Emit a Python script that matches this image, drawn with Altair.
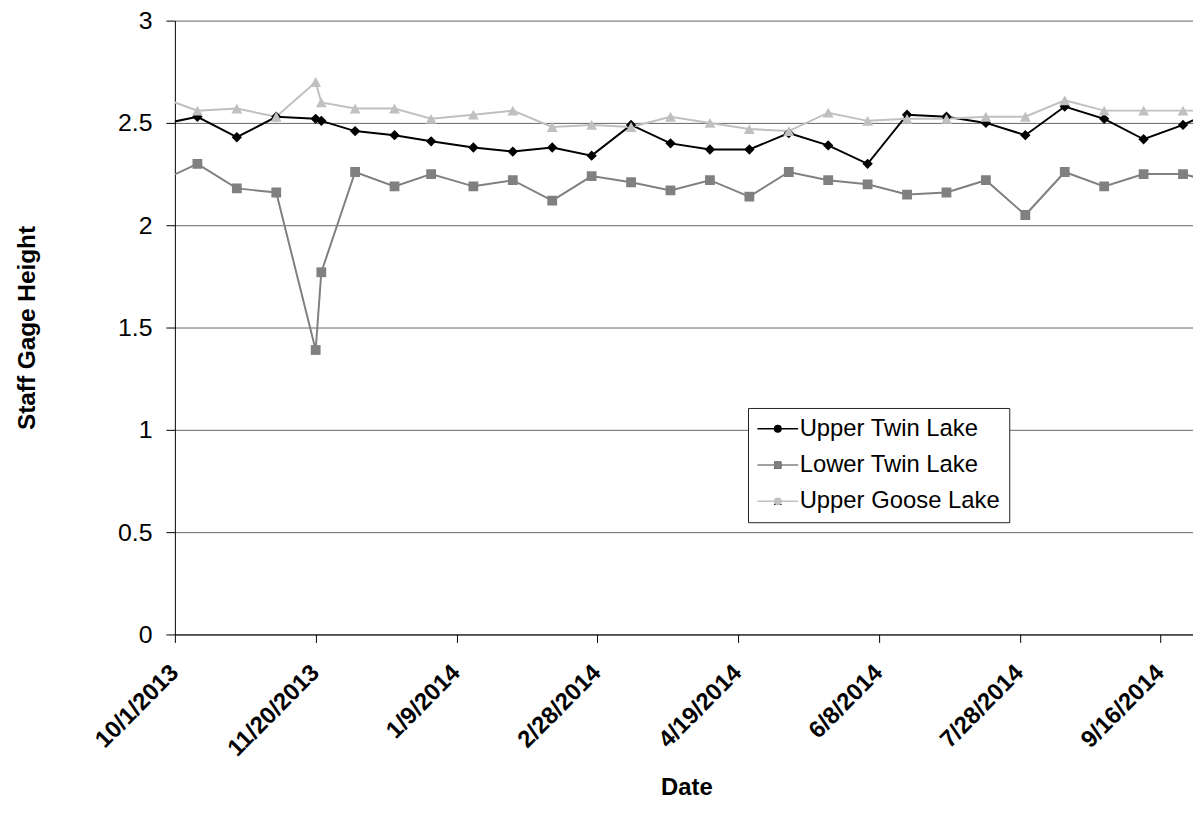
import altair as alt
import pandas as pd

# ---- data ----
dates = [
    "2013-09-25", "2013-10-09", "2013-10-23", "2013-11-06", "2013-11-20", "2013-11-22",
    "2013-12-04", "2013-12-18", "2013-12-31", "2014-01-15", "2014-01-29", "2014-02-12",
    "2014-02-26", "2014-03-12", "2014-03-26", "2014-04-09", "2014-04-23", "2014-05-07",
    "2014-05-21", "2014-06-04", "2014-06-18", "2014-07-02", "2014-07-16", "2014-07-30",
    "2014-08-13", "2014-08-27", "2014-09-10", "2014-09-24", "2014-10-08",
]
upper_twin = [2.49, 2.53, 2.43, 2.53, 2.52, 2.51, 2.46, 2.44, 2.41,
              2.38, 2.36, 2.38, 2.34, 2.49, 2.40, 2.37, 2.37, 2.45, 2.39,
              2.30, 2.54, 2.53, 2.50, 2.44, 2.58, 2.52, 2.42, 2.49, 2.58]
lower_twin = [2.21, 2.30, 2.18, 2.16, 1.39, 1.77, 2.26, 2.19, 2.25,
              2.19, 2.22, 2.12, 2.24, 2.21, 2.17, 2.22, 2.14, 2.26, 2.22,
              2.20, 2.15, 2.16, 2.22, 2.05, 2.26, 2.19, 2.25, 2.25, 2.20]
upper_goose = [2.63, 2.56, 2.57, 2.53, 2.70, 2.60, 2.57, 2.57, 2.52,
               2.54, 2.56, 2.48, 2.49, 2.48, 2.53, 2.50, 2.47, 2.46, 2.55,
               2.51, 2.52, 2.52, 2.53, 2.53, 2.61, 2.56, 2.56, 2.56, 2.56]

series_names = ["Upper Twin Lake", "Lower Twin Lake", "Upper Goose Lake"]
series_colors = ["#000000", "#808080", "#c0c0c0"]
marker_paths = [
    "M0,-0.95L0.95,0L0,0.95L-0.95,0Z",
    "M-0.9,-0.9H0.9V0.9H-0.9Z",
    "M0,-0.9L1.0,0.9H-1.0Z",
]
x_tick_dates = [(2013, 10, 1), (2013, 11, 20), (2014, 1, 9), (2014, 2, 28),
                (2014, 4, 19), (2014, 6, 8), (2014, 7, 28), (2014, 9, 16)]
y_ticks = [0, 0.5, 1, 1.5, 2, 2.5, 3]

rows = []
for name, vals in zip(series_names, [upper_twin, lower_twin, upper_goose]):
    for d, v in zip(dates, vals):
        rows.append({"date": d, "series": name, "value": v})
df = pd.DataFrame(rows)

FONT = "Liberation Sans"

x_enc = alt.X(
    "date:T",
    scale=alt.Scale(
        type="utc",
        domain=[alt.DateTime(year=2013, month=10, date=1, utc=True),
                alt.DateTime(year=2014, month=9, date=27, hours=13, utc=True)],
        nice=False,
    ),
    axis=alt.Axis(
        values=[alt.DateTime(year=y, month=m, date=d, utc=True) for (y, m, d) in x_tick_dates],
        format="%-m/%-d/%Y",
        labelAngle=315,
        labelAlign="right",
        labelBaseline="top",
        labelPadding=18,
        labelOffset=-9,
        labelFont=FONT,
        labelFontSize=24,
        labelFontWeight="bold",
        labelColor="black",
        tickSize=8,
        tickColor="black",
        domainColor="black",
        grid=False,
        title="Date",
        titleFont=FONT,
        titleFontSize=24,
        titleFontWeight="bold",
        titleColor="black",
        titleX=515,
        titleY=161,
        titleAlign="center",
        titleBaseline="alphabetic",
        labelOverlap=False,
    ),
)

y_enc = alt.Y(
    "value:Q",
    scale=alt.Scale(domain=[0, 3], nice=False, zero=True),
    axis=alt.Axis(
        values=y_ticks,
        format="~g",
        labelFont=FONT,
        labelFontSize=25,
        labelColor="black",
        labelPadding=14,
        tickSize=9,
        tickColor="black",
        domainColor="black",
        gridColor="#666666",
        gridWidth=1,
        title="Staff Gage Height",
        titleFont=FONT,
        titleFontSize=24.5,
        titleFontWeight="bold",
        titleColor="black",
        titleAngle=270,
        titleX=-141,
        titleY=309,
        titleAlign="center",
        titleBaseline="alphabetic",
    ),
)

legend_common = dict(
    title=None,
    orient="none",
    legendX=577,
    legendY=390,
    direction="vertical",
    labelFont=FONT,
    labelFontSize=24,
    labelColor="black",
    labelOffset=10,
    labelLimit=400,
    rowPadding=12.5,
    padding=9,
    symbolOffset=9,
)

line_legend = alt.Legend(
    symbolType="M-1.95,0H1.95",
    symbolSize=441,
    symbolStrokeWidth=1.5,
    fillColor="white",
    strokeColor="#222222",
    cornerRadius=0,
    zindex=1,
    **legend_common,
)
marker_legend = alt.Legend(
    symbolSize=64,
    symbolStrokeWidth=0,
    labelOpacity=0,
    zindex=2,
    **legend_common,
)

lines = alt.Chart(df).mark_line(strokeWidth=2, clip=True).encode(
    x=x_enc,
    y=y_enc,
    stroke=alt.Stroke("series:N",
                      scale=alt.Scale(domain=series_names, range=series_colors),
                      legend=line_legend),
    detail="series:N",
)

points = alt.Chart(df).mark_point(filled=True, size=120, opacity=1, clip=True).encode(
    x=x_enc,
    y=y_enc,
    fill=alt.Fill("series:N", sort=series_names,
                  scale=alt.Scale(range=series_colors), legend=marker_legend),
    shape=alt.Shape("series:N", sort=series_names,
                    scale=alt.Scale(range=marker_paths), legend=marker_legend),
)

chart = alt.layer(lines, points).properties(
    width=1025,
    height=618,
    padding={"left": 168, "top": 10, "right": 0, "bottom": 167},
    autosize=alt.AutoSizeParams(type="none"),
    background="white",
).configure_view(strokeWidth=0)

chart.save("out.html", embed_options={"renderer": "svg", "actions": False})
